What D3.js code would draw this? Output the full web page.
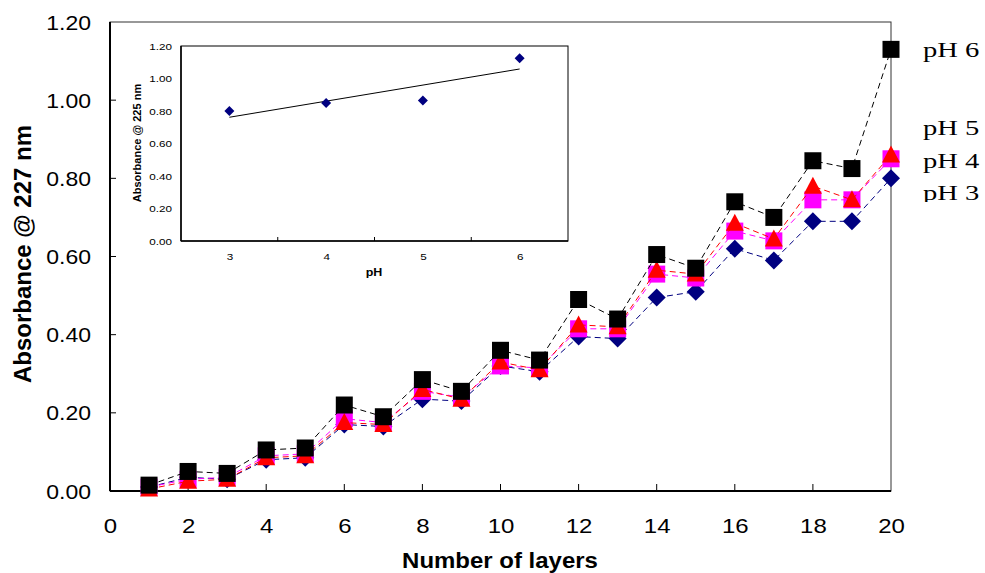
<!DOCTYPE html>
<html>
<head>
<meta charset="utf-8">
<script src="https://cdn.jsdelivr.net/npm/d3@7"></script>
<style>
  html, body { margin: 0; padding: 0; background: #fff; }
  svg { display: block; }
</style>
</head>
<body>
<svg id="chart" width="985" height="573"></svg>
<script>
// ---------- data ----------
const layers = [1,2,3,4,5,6,7,8,9,10,11,12,13,14,15,16,17,18,19,20];
const pH3 = [0.010,0.035,0.030,0.080,0.085,0.170,0.165,0.235,0.230,0.320,0.305,0.395,0.390,0.495,0.510,0.620,0.590,0.690,0.690,0.800];
const pH4 = [0.010,0.030,0.035,0.090,0.095,0.185,0.175,0.255,0.240,0.320,0.315,0.415,0.415,0.555,0.545,0.665,0.640,0.745,0.745,0.850];
const pH5 = [0.005,0.025,0.030,0.085,0.090,0.175,0.170,0.260,0.235,0.330,0.310,0.425,0.420,0.565,0.555,0.685,0.645,0.780,0.745,0.860];
const pH6 = [0.015,0.050,0.045,0.105,0.110,0.220,0.190,0.285,0.255,0.360,0.335,0.490,0.440,0.605,0.570,0.740,0.700,0.845,0.825,1.130];
const seriesNames = ["pH 3","pH 4","pH 5","pH 6"];
const xTicks = [0,2,4,6,8,10,12,14,16,18,20];
const yTicks = [0,0.2,0.4,0.6,0.8,1.0,1.2];

const insetPH = [3,4,5,6];
const insetAbs = [0.80,0.85,0.865,1.125];
const insetYTicks = [0,0.2,0.4,0.6,0.8,1.0,1.2];

// ---------- layout ----------
const svg = d3.select("#chart");
const P = {l:110, r:891, t:22, b:491};
const x = d3.scaleLinear().domain([0,20]).range([P.l,P.r]);
const y = d3.scaleLinear().domain([0,1.2]).range([P.b,P.t]);

const styles = [
  {color:"#000080", shape:"diamond"},
  {color:"#FF00FF", shape:"square"},
  {color:"#FF0000", shape:"triangle"},
  {color:"#000000", shape:"square"}
];
const seriesData = [pH3,pH4,pH5,pH6];

function stretchText(sel, sx){
  sel.each(function(){
    const t = d3.select(this);
    const ax = +t.attr("x"), ay = +t.attr("y");
    t.attr("transform", `translate(${ax},${ay}) scale(${sx},1) translate(${-ax},${-ay})`);
  });
}

// plot frame
svg.append("rect").attr("x",P.l).attr("y",P.t).attr("width",P.r-P.l).attr("height",P.b-P.t)
  .attr("fill","none").attr("stroke","#333").attr("stroke-width",1);

// axes
const xAxis = d3.axisBottom(x).tickValues(xTicks).tickSize(0).tickFormat(d3.format("d"));
const gx = svg.append("g").attr("transform",`translate(0,${P.b})`).call(xAxis);
gx.select(".domain").remove();
gx.selectAll("text").attr("dy",null).attr("y",42).attr("font-family","Liberation Sans, Arial, sans-serif")
  .attr("font-size",20).attr("fill","#000").attr("x",0).attr("transform","scale(1.2,1)");

const yAxis = d3.axisLeft(y).tickValues(yTicks).tickSize(0).tickFormat(d3.format(".2f"));
const gy = svg.append("g").attr("transform",`translate(${P.l},0)`).call(yAxis);
gy.select(".domain").remove();
gy.selectAll("text").attr("dy","0.35em").attr("font-family","Liberation Sans, Arial, sans-serif")
  .attr("font-size",20).attr("fill","#000").attr("transform","scale(1.15,1)")
  .attr("x",-19/1.15);

// inward tick marks
svg.append("g").selectAll("line").data(xTicks.filter(d=>d>0&&d<20)).join("line")
  .attr("x1",d=>x(d)).attr("x2",d=>x(d)).attr("y1",P.b).attr("y2",P.b-7)
  .attr("stroke","#000").attr("stroke-width",1);
svg.append("g").selectAll("line").data(yTicks.filter(d=>d>0&&d<1.2)).join("line")
  .attr("x1",P.l).attr("x2",P.l+6).attr("y1",d=>y(d)).attr("y2",d=>y(d))
  .attr("stroke","#000").attr("stroke-width",1);

// axis lines (thicker)
svg.append("line").attr("x1",P.l).attr("x2",P.r).attr("y1",P.b).attr("y2",P.b).attr("stroke","#000").attr("stroke-width",2);
svg.append("line").attr("x1",P.l).attr("x2",P.l).attr("y1",P.t).attr("y2",P.b).attr("stroke","#000").attr("stroke-width",2);

// axis titles
svg.append("text").attr("x",500).attr("y",568).attr("text-anchor","middle")
  .attr("font-family","Liberation Sans, Arial, sans-serif").attr("font-weight","bold").attr("font-size",22)
  .text("Number of layers").call(stretchText,1.09);
svg.append("text").attr("transform","translate(31,254) rotate(-90)").attr("text-anchor","middle")
  .attr("font-family","Liberation Sans, Arial, sans-serif").attr("font-weight","bold").attr("font-size",24)
  .text("Absorbance @ 227 nm");

// ---------- series ----------
function markerPath(shape){
  if(shape==="diamond") return "M0,-9L9,0L0,9L-9,0Z";
  if(shape==="square") return "M-8.5,-8.5H8.5V8.5H-8.5Z";
  if(shape==="triangle") return "M0,-9.5L9,7.5H-9Z";
}
const line = d3.line().x((d,i)=>x(layers[i])).y(d=>y(d));
const gS = svg.append("g");
seriesData.forEach((vals,si)=>{
  const st = styles[si];
  gS.append("path").datum(vals).attr("d",line).attr("fill","none")
    .attr("stroke",st.color).attr("stroke-width",1).attr("stroke-dasharray","6,4");
  gS.append("g").selectAll("path").data(vals).join("path")
    .attr("transform",(d,i)=>`translate(${x(layers[i])},${y(d)})`)
    .attr("d",markerPath(st.shape)).attr("fill",st.color);
});

// series labels
const labelPos = [{yb:200},{yb:168},{yb:135},{yb:57}];
svg.append("defs").append("clipPath").attr("id","lblclip")
  .append("rect").attr("x",900).attr("y",0).attr("width",85).attr("height",202);
const gL = svg.append("g").attr("clip-path","url(#lblclip)");
seriesNames.forEach((n,i)=>{
  gL.append("text").attr("x",923).attr("y",labelPos[i].yb)
    .attr("font-family","Liberation Serif, Times New Roman, serif").attr("font-size",22).attr("fill","#000")
    .text(n).call(stretchText,1.3);
});

// ---------- inset ----------
const I = {l:181, r:568, t:46, b:241};
const ix = d3.scaleLinear().domain([2.5,6.5]).range([I.l,I.r]);
const iy = d3.scaleLinear().domain([0,1.2]).range([I.b,I.t]);
const gi = svg.append("g");
gi.append("rect").attr("x",I.l).attr("y",I.t).attr("width",I.r-I.l).attr("height",I.b-I.t)
  .attr("fill","#fff").attr("stroke","#000").attr("stroke-width",1);
gi.append("line").attr("x1",I.l).attr("x2",I.l).attr("y1",I.t).attr("y2",I.b).attr("stroke","#000").attr("stroke-width",1.5);
gi.append("line").attr("x1",I.l).attr("x2",I.r).attr("y1",I.b).attr("y2",I.b).attr("stroke","#000").attr("stroke-width",1.5);
// category boundary ticks
gi.selectAll("line.ct").data([3.5,4.5,5.5]).join("line").attr("class","ct")
  .attr("x1",d=>ix(d)).attr("x2",d=>ix(d)).attr("y1",I.b).attr("y2",I.b-4).attr("stroke","#000");
const ixAxis = d3.axisBottom(ix).tickValues(insetPH).tickSize(0).tickFormat(d3.format("d"));
const gix = gi.append("g").attr("transform",`translate(0,${I.b})`).call(ixAxis);
gix.select(".domain").remove();
gix.selectAll("text").attr("dy",null).attr("y",19).attr("font-family","Liberation Sans, Arial, sans-serif")
  .attr("font-size",9).attr("fill","#000").attr("transform","scale(1.3,1)");
const iyAxis = d3.axisLeft(iy).tickValues(insetYTicks).tickSize(0).tickFormat(d3.format(".2f"));
const giy = gi.append("g").attr("transform",`translate(${I.l},0)`).call(iyAxis);
giy.select(".domain").remove();
giy.selectAll("text").attr("dy","0.35em").attr("font-family","Liberation Sans, Arial, sans-serif")
  .attr("font-size",9).attr("fill","#000").attr("transform","scale(1.3,1)").attr("x",-9/1.3);
gi.append("text").attr("x",374).attr("y",276).attr("text-anchor","middle")
  .attr("font-family","Liberation Sans, Arial, sans-serif").attr("font-weight","bold").attr("font-size",10)
  .text("pH").call(stretchText,1.25);
gi.append("text").attr("transform","translate(141,143) rotate(-90)").attr("text-anchor","middle")
  .attr("font-family","Liberation Sans, Arial, sans-serif").attr("font-weight","bold").attr("font-size",11)
  .text("Absorbance @ 225 nm");

// linear trendline from inset data
const mx = d3.mean(insetPH), my = d3.mean(insetAbs);
const slope = d3.sum(insetPH.map((v,i)=>(v-mx)*(insetAbs[i]-my))) / d3.sum(insetPH.map(v=>(v-mx)*(v-mx)));
const icpt = my - slope*mx;
const x0 = d3.min(insetPH), x1 = d3.max(insetPH);
gi.append("line").attr("x1",ix(x0)).attr("y1",iy(icpt+slope*x0)).attr("x2",ix(x1)).attr("y2",iy(icpt+slope*x1))
  .attr("stroke","#000").attr("stroke-width",1);
gi.append("g").selectAll("path").data(insetAbs).join("path")
  .attr("transform",(d,i)=>`translate(${ix(insetPH[i])},${iy(d)})`)
  .attr("d","M0,-5L5,0L0,5L-5,0Z").attr("fill","#000080");
</script>
</body>
</html>
